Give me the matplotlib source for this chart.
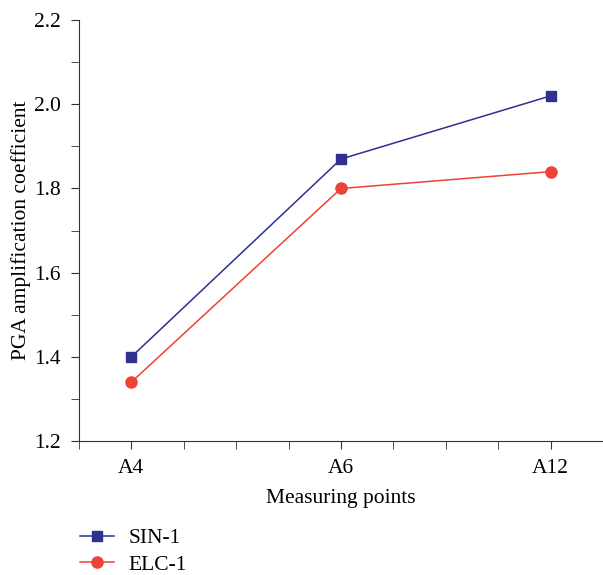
import matplotlib.pyplot as plt
from matplotlib.ticker import MultipleLocator

points = ["A4", "A6", "A12"]
sin_1 = [1.40, 1.87, 2.02]
elc_1 = [1.34, 1.80, 1.84]

plt.rcParams['font.family'] = ['Liberation Serif', 'DejaVu Serif']
fs = 15.5

fig = plt.figure(figsize=(6.03, 5.75), dpi=100)
ax = fig.add_axes([0.131, 0.233, 0.869, 0.732])

x = list(range(len(points)))
ax.plot(x, sin_1, color='#2e3192', marker='s', markersize=7, linewidth=1.1, label='SIN-1')
ax.plot(x, elc_1, color='#ef4136', marker='o', markersize=8, linewidth=1.1, label='ELC-1')

ax.set_xlim(-0.25, 2.25)
ax.set_ylim(1.2, 2.2)
ax.set_xticks(x)
ax.set_xticklabels(points)
ax.xaxis.set_minor_locator(MultipleLocator(0.25))
ax.yaxis.set_major_locator(MultipleLocator(0.2))
ax.yaxis.set_minor_locator(MultipleLocator(0.1))
ax.yaxis.set_major_formatter(plt.FormatStrFormatter('%.1f'))

for side in ['top', 'right']:
    ax.spines[side].set_visible(False)
for side in ['left', 'bottom']:
    ax.spines[side].set_color('#333333')
ax.tick_params(which='both', direction='out', color='#333333', labelsize=fs)
ax.tick_params(which='major', length=6, pad=7)
ax.tick_params(which='minor', length=6)

ax.set_xlabel('Measuring points', fontsize=fs, labelpad=8)
ax.set_ylabel('PGA amplification coefficient', fontsize=fs, labelpad=2)

fig.legend(loc='lower left', bbox_to_anchor=(0.101, -0.033), frameon=False,
           fontsize=fs, handlelength=1.55, labelspacing=0.3, handletextpad=0.7)

fig.savefig('out.png', dpi=100)
